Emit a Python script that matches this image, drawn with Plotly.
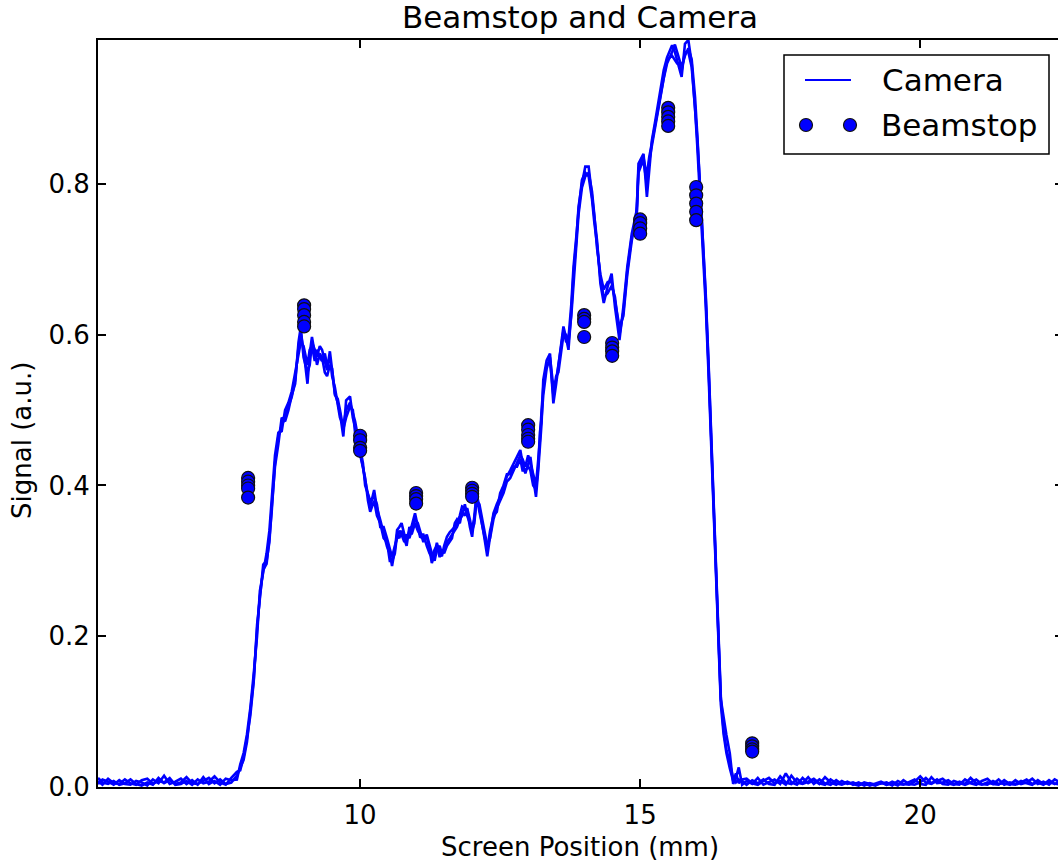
import plotly.graph_objects as go

# Screen profile sampling positions (mm)
position_mm = [
    5.32, 5.4, 5.5, 5.6, 5.7, 5.8, 5.9, 6.0, 6.1, 6.2,
    6.3, 6.4, 6.5, 6.6, 6.7, 6.8, 6.9, 7.0, 7.1, 7.2,
    7.3, 7.4, 7.5, 7.6, 7.7, 7.8,
    7.86, 7.92, 7.98, 8.04, 8.1, 8.16, 8.21, 8.27, 8.33, 8.38,
    8.42, 8.48, 8.54, 8.6, 8.66, 8.72, 8.78, 8.84, 8.9, 8.94,
    8.99, 9.06, 9.1, 9.14, 9.19, 9.23, 9.28, 9.32, 9.37, 9.41,
    9.46, 9.5, 9.55, 9.6, 9.64, 9.7, 9.75, 9.82, 9.87, 9.91,
    9.96, 10.0, 10.05, 10.09, 10.14, 10.18, 10.25, 10.3, 10.36, 10.42,
    10.48, 10.53, 10.57, 10.62, 10.66, 10.7, 10.74, 10.79, 10.83, 10.88,
    10.92, 10.98, 11.03, 11.07, 11.13, 11.19, 11.24, 11.28, 11.33, 11.37,
    11.42, 11.46, 11.5, 11.55, 11.6, 11.64, 11.69, 11.73, 11.78, 11.82,
    11.87, 11.91, 11.96, 12.0, 12.04, 12.08, 12.13, 12.17, 12.22, 12.27,
    12.32, 12.38, 12.44, 12.5, 12.56, 12.62, 12.68, 12.74, 12.8, 12.86,
    12.9, 12.95, 13.0, 13.04, 13.09, 13.14, 13.18, 13.21, 13.24, 13.27,
    13.33, 13.39, 13.45, 13.5, 13.54, 13.58, 13.63, 13.68, 13.72, 13.77,
    13.81, 13.86, 13.9, 13.96, 14.02, 14.08, 14.14, 14.18, 14.23, 14.29,
    14.35, 14.42, 14.49, 14.55, 14.63, 14.7, 14.77, 14.85, 14.9, 14.94,
    14.97, 15.02, 15.06, 15.12, 15.16, 15.21, 15.27, 15.35, 15.42, 15.48,
    15.57, 15.62, 15.66, 15.7, 15.74, 15.8, 15.86, 15.92, 15.98, 16.02,
    16.07, 16.12, 16.17, 16.22, 16.27, 16.32, 16.36, 16.4, 16.44, 16.49,
    16.54, 16.6, 16.66, 16.71, 16.76, 16.82,
    16.9, 17.0, 17.1, 17.2, 17.3, 17.4, 17.5, 17.6, 17.7, 17.8,
    17.9, 18.0, 18.1, 18.2, 18.3, 18.4, 18.5, 18.6, 18.7, 18.8,
    18.9, 19.0, 19.1, 19.2, 19.3, 19.4, 19.5, 19.6, 19.7, 19.8,
    19.9, 20.0, 20.1, 20.2, 20.3, 20.4, 20.5, 20.6, 20.7, 20.8,
    20.9, 21.0, 21.1, 21.2, 21.3, 21.4, 21.5, 21.6, 21.7, 21.8,
    21.9, 22.0, 22.1, 22.2, 22.3, 22.4, 22.5, 22.6,
]

# Camera signal, three overlaid shots (a.u.)
camera_shot_1 = [
    0.012, 0.006, 0.004, 0.008, 0.003, 0.005, 0.010, 0.004, 0.002, 0.006,
    0.003, 0.012, 0.005, 0.009, 0.004, 0.006, 0.013, 0.005, 0.004, 0.008,
    0.012, 0.005, 0.010, 0.004, 0.006, 0.015,
    0.025, 0.036, 0.06, 0.099, 0.142, 0.209, 0.253, 0.288, 0.296, 0.33,
    0.364, 0.43, 0.465, 0.48, 0.49, 0.505, 0.518, 0.54, 0.584, 0.602,
    0.58, 0.535, 0.575, 0.597, 0.575, 0.571, 0.585, 0.58, 0.565, 0.553,
    0.578, 0.55, 0.522, 0.51, 0.496, 0.465, 0.513, 0.518, 0.49, 0.478,
    0.46, 0.447, 0.425, 0.407, 0.385, 0.372, 0.394, 0.37, 0.354, 0.337,
    0.319, 0.31, 0.293, 0.315, 0.341, 0.345, 0.35, 0.335, 0.328, 0.34,
    0.346, 0.363, 0.345, 0.332, 0.33, 0.332, 0.315, 0.297, 0.31, 0.324,
    0.31, 0.306, 0.32, 0.332, 0.338, 0.341, 0.345, 0.35, 0.36, 0.372,
    0.37, 0.368, 0.345, 0.332, 0.36, 0.39, 0.37, 0.354, 0.33, 0.306,
    0.335, 0.363, 0.375, 0.385, 0.398, 0.412, 0.42, 0.43, 0.438, 0.447,
    0.43, 0.416, 0.43, 0.438, 0.41, 0.385, 0.42, 0.452, 0.483, 0.54,
    0.566, 0.575, 0.509, 0.535, 0.558, 0.585, 0.611, 0.595, 0.58, 0.63,
    0.681, 0.725, 0.77, 0.8, 0.823, 0.823, 0.783, 0.755, 0.725, 0.668,
    0.642, 0.664, 0.681, 0.637, 0.593, 0.637, 0.69, 0.734, 0.75, 0.765,
    0.827, 0.835, 0.84, 0.783, 0.82, 0.858, 0.884, 0.92, 0.951, 0.968,
    0.984, 0.975, 0.964, 0.955, 0.942, 0.986, 0.991, 0.96, 0.907, 0.86,
    0.796, 0.73, 0.65, 0.56, 0.465, 0.37, 0.28, 0.195, 0.116, 0.09,
    0.069, 0.045, 0.004, 0.012, 0.026, 0.003,
    0.008, 0.004, 0.012, 0.003, 0.006, 0.010, 0.004, 0.018, 0.006, 0.003,
    0.012, 0.005, 0.009, 0.004, 0.013, 0.006, 0.003, 0.008, 0.004, 0.006,
    0.003, 0.005, 0.002, 0.004, 0.007, 0.003, 0.005, 0.002, 0.009, 0.004,
    0.003, 0.006, 0.012, 0.005, 0.010, 0.004, 0.003, 0.008, 0.005, 0.003,
    0.006, 0.010, 0.004, 0.003, 0.008, 0.004, 0.005, 0.003, 0.009, 0.004,
    0.006, 0.011, 0.004, 0.007, 0.003, 0.010, 0.006, 0.008,
]

camera_shot_2 = [
    0.004, 0.010, 0.007, 0.003, 0.009, 0.004, 0.003, 0.008, 0.006, 0.002,
    0.010, 0.005, 0.015, 0.004, 0.007, 0.011, 0.004, 0.009, 0.003, 0.013,
    0.004, 0.008, 0.003, 0.011, 0.009, 0.010,
    0.03, 0.045, 0.07, 0.105, 0.15, 0.2, 0.26, 0.285, 0.31, 0.34,
    0.38, 0.44, 0.47, 0.472, 0.5, 0.51, 0.525, 0.55, 0.575, 0.59,
    0.585, 0.56, 0.58, 0.585, 0.565, 0.58, 0.57, 0.565, 0.575, 0.56,
    0.57, 0.545, 0.53, 0.505, 0.49, 0.48, 0.5, 0.51, 0.495, 0.485,
    0.465, 0.45, 0.43, 0.4, 0.39, 0.38, 0.385, 0.375, 0.345, 0.345,
    0.33, 0.315, 0.305, 0.32, 0.33, 0.34, 0.335, 0.325, 0.335, 0.33,
    0.34, 0.355, 0.35, 0.34, 0.325, 0.335, 0.32, 0.31, 0.3, 0.315,
    0.32, 0.31, 0.315, 0.325, 0.33, 0.335, 0.34, 0.345, 0.355, 0.36,
    0.375, 0.36, 0.35, 0.345, 0.355, 0.38, 0.375, 0.36, 0.34, 0.32,
    0.33, 0.355, 0.37, 0.38, 0.39, 0.405, 0.41, 0.42, 0.43, 0.44,
    0.435, 0.425, 0.44, 0.43, 0.415, 0.4, 0.43, 0.46, 0.5, 0.53,
    0.56, 0.565, 0.52, 0.545, 0.55, 0.575, 0.6, 0.6, 0.59, 0.625,
    0.67, 0.715, 0.76, 0.795, 0.81, 0.815, 0.79, 0.76, 0.715, 0.68,
    0.66, 0.67, 0.67, 0.645, 0.61, 0.625, 0.68, 0.725, 0.745, 0.76,
    0.815, 0.825, 0.83, 0.8, 0.83, 0.85, 0.875, 0.91, 0.94, 0.96,
    0.975, 0.985, 0.975, 0.965, 0.955, 0.97, 0.98, 0.965, 0.915, 0.865,
    0.8, 0.735, 0.655, 0.565, 0.47, 0.375, 0.285, 0.2, 0.12, 0.075,
    0.05, 0.03, 0.012, 0.006, 0.01, 0.008,
    0.003, 0.009, 0.005, 0.010, 0.004, 0.003, 0.014, 0.006, 0.004, 0.011,
    0.005, 0.013, 0.004, 0.010, 0.005, 0.003, 0.009, 0.004, 0.007, 0.003,
    0.006, 0.002, 0.005, 0.003, 0.004, 0.006, 0.002, 0.008, 0.004, 0.003,
    0.007, 0.014, 0.006, 0.004, 0.008, 0.011, 0.005, 0.003, 0.007, 0.004,
    0.012, 0.005, 0.003, 0.006, 0.004, 0.010, 0.003, 0.006, 0.004, 0.008,
    0.005, 0.003, 0.009, 0.004, 0.006, 0.005, 0.003, 0.009,
]

camera_shot_3 = [
    0.008, 0.003, 0.011, 0.005, 0.004, 0.010, 0.005, 0.003, 0.009, 0.011,
    0.004, 0.008, 0.006, 0.012, 0.003, 0.004, 0.008, 0.003, 0.010, 0.005,
    0.007, 0.014, 0.006, 0.003, 0.012, 0.020,
    0.022, 0.04, 0.065, 0.095, 0.14, 0.215, 0.25, 0.295, 0.3, 0.325,
    0.37, 0.425, 0.455, 0.49, 0.485, 0.5, 0.52, 0.535, 0.59, 0.61,
    0.57, 0.55, 0.56, 0.59, 0.58, 0.56, 0.575, 0.57, 0.55, 0.545,
    0.56, 0.555, 0.52, 0.515, 0.5, 0.475, 0.49, 0.505, 0.5, 0.47,
    0.455, 0.44, 0.42, 0.41, 0.38, 0.365, 0.38, 0.36, 0.35, 0.33,
    0.325, 0.3, 0.3, 0.31, 0.335, 0.33, 0.34, 0.33, 0.32, 0.345,
    0.335, 0.35, 0.34, 0.335, 0.335, 0.32, 0.31, 0.305, 0.315, 0.32,
    0.305, 0.315, 0.31, 0.32, 0.325, 0.33, 0.35, 0.355, 0.35, 0.365,
    0.36, 0.37, 0.355, 0.34, 0.35, 0.385, 0.365, 0.35, 0.335, 0.315,
    0.34, 0.36, 0.365, 0.39, 0.4, 0.415, 0.415, 0.425, 0.425, 0.435,
    0.42, 0.42, 0.425, 0.42, 0.4, 0.395, 0.425, 0.47, 0.49, 0.52,
    0.555, 0.57, 0.53, 0.54, 0.56, 0.58, 0.605, 0.59, 0.595, 0.64,
    0.69, 0.73, 0.765, 0.805, 0.815, 0.81, 0.78, 0.75, 0.72, 0.675,
    0.65, 0.655, 0.665, 0.65, 0.6, 0.63, 0.685, 0.73, 0.74, 0.77,
    0.82, 0.83, 0.835, 0.81, 0.835, 0.855, 0.88, 0.915, 0.945, 0.965,
    0.97, 0.965, 0.96, 0.96, 0.95, 0.975, 0.975, 0.955, 0.9, 0.85,
    0.785, 0.72, 0.64, 0.55, 0.455, 0.36, 0.27, 0.185, 0.11, 0.07,
    0.045, 0.025, 0.008, 0.018, 0.005, 0.01,
    0.011, 0.005, 0.003, 0.008, 0.012, 0.005, 0.008, 0.003, 0.015, 0.006,
    0.004, 0.007, 0.011, 0.005, 0.003, 0.010, 0.005, 0.003, 0.006, 0.004,
    0.002, 0.006, 0.004, 0.002, 0.006, 0.003, 0.007, 0.004, 0.003, 0.006,
    0.010, 0.004, 0.003, 0.013, 0.005, 0.006, 0.009, 0.004, 0.003, 0.010,
    0.005, 0.003, 0.008, 0.011, 0.004, 0.003, 0.009, 0.004, 0.003, 0.006,
    0.010, 0.004, 0.006, 0.003, 0.009, 0.004, 0.007, 0.004,
]

# Beamstop readings: scan position (mm) and repeated signal readings (a.u.)
beamstop_position_mm = [8, 9, 10, 11, 12, 13, 14, 14.5, 15, 15.5, 16, 17]
beamstop_signal = [
    [0.410, 0.405, 0.400, 0.396, 0.384],
    [0.639, 0.634, 0.626, 0.617, 0.611],
    [0.466, 0.460, 0.450, 0.446],
    [0.390, 0.386, 0.382, 0.376],
    [0.397, 0.393, 0.389, 0.385],
    [0.480, 0.474, 0.467, 0.462, 0.458],
    [0.626, 0.621, 0.617, 0.597],
    [0.589, 0.583, 0.578, 0.572],
    [0.753, 0.748, 0.741, 0.734],
    [0.901, 0.895, 0.889, 0.883, 0.877],
    [0.796, 0.785, 0.774, 0.763, 0.752],
    [0.058, 0.054, 0.050, 0.047],
]

x_ticks = [10, 15, 20]
y_ticks = [0.0, 0.2, 0.4, 0.6, 0.8]
y_tick_labels = ["0.0", "0.2", "0.4", "0.6", "0.8"]

assert len(position_mm) == len(camera_shot_1) == len(camera_shot_2) == len(camera_shot_3)

BLUE = "#0000ff"
FONT = "DejaVu Sans"
W, H = 1058, 865
M_L, M_R, M_T, M_B = 98, 0, 40, 78

fig = go.Figure()

for shot in (camera_shot_1, camera_shot_2, camera_shot_3):
    fig.add_trace(go.Scatter(
        x=position_mm, y=shot, mode="lines",
        line=dict(color=BLUE, width=2.6),
        showlegend=False, hoverinfo="skip",
    ))

bs_x, bs_y = [], []
for pos, readings in zip(beamstop_position_mm, beamstop_signal):
    for val in readings:
        bs_x.append(pos)
        bs_y.append(val)

fig.add_trace(go.Scatter(
    x=bs_x, y=bs_y, mode="markers",
    marker=dict(size=13, color=BLUE, line=dict(color="#111111", width=1.2)),
    showlegend=False, hoverinfo="skip",
))

# empty trace so the right-hand tick axis is rendered
fig.add_trace(go.Scatter(x=[], y=[], yaxis="y2", showlegend=False))

axis_common = dict(
    ticks="inside", ticklen=8, tickwidth=1.5, tickcolor="black",
    showline=True, linecolor="black", linewidth=2,
    showgrid=False, zeroline=False,
    tickfont=dict(family=FONT, size=26, color="black"),
)

fig.update_layout(
    width=W, height=H,
    margin=dict(l=M_L, r=M_R, t=M_T, b=M_B),
    paper_bgcolor="white", plot_bgcolor="white",
    font=dict(family=FONT, color="black"),
    title=dict(
        text="Beamstop and Camera",
        font=dict(family=FONT, size=31, color="black"),
        x=580 / W, xanchor="center", xref="container",
        y=1 - 17 / H, yanchor="middle", yref="container",
    ),
    xaxis=dict(
        range=[5.32, 22.46], tickvals=x_ticks, mirror="ticks",
        ticklabelstandoff=4, **axis_common,
    ),
    yaxis=dict(
        range=[0, 0.991], tickvals=y_ticks, ticktext=y_tick_labels,
        mirror=False, ticklabelstandoff=1, **axis_common,
    ),
    yaxis2=dict(
        overlaying="y", side="right", anchor="x",
        range=[0, 0.991], tickvals=y_ticks,
        ticks="inside", ticklen=3, tickwidth=1.5, tickcolor="black",
        showticklabels=False, showline=False, showgrid=False, zeroline=False,
    ),
)

plot_w = W - M_L - M_R
plot_h = H - M_T - M_B


def px_to_paper(px, py):
    return (px - M_L) / plot_w, (H - M_B - py) / plot_h


# axis labels
lx, ly = px_to_paper(580, 847)
fig.add_annotation(text="Screen Position (mm)", x=lx, y=ly, xref="paper", yref="paper",
                   xanchor="center", yanchor="middle", showarrow=False,
                   font=dict(family=FONT, size=26, color="black"))
lx, ly = px_to_paper(22, 441)
fig.add_annotation(text="Signal (a.u.)", x=lx, y=ly, xref="paper", yref="paper",
                   xanchor="center", yanchor="middle", showarrow=False, textangle=-90,
                   font=dict(family=FONT, size=26, color="black"))

# legend box
bx0, by0 = px_to_paper(784, 154)
bx1, by1 = px_to_paper(1049, 55)
fig.add_shape(type="rect", xref="paper", yref="paper", x0=bx0, y0=by0, x1=bx1, y1=by1,
              line=dict(color="black", width=1.5), fillcolor="white", layer="above")

# legend: Camera line sample
sx0, sy = px_to_paper(805, 80)
sx1, _ = px_to_paper(851, 80)
fig.add_shape(type="line", xref="paper", yref="paper", x0=sx0, y0=sy, x1=sx1, y1=sy,
              line=dict(color=BLUE, width=2), layer="above")
tx, ty = px_to_paper(880, 80)
fig.add_annotation(text="Camera", x=tx, y=ty, xref="paper", yref="paper",
                   xanchor="left", yanchor="middle", showarrow=False,
                   font=dict(family=FONT, size=31, color="black"))

# legend: Beamstop marker samples
for mx_px in (806, 850):
    mx, my = px_to_paper(mx_px, 125)
    fig.add_shape(type="circle", xref="paper", yref="paper",
                  xsizemode="pixel", ysizemode="pixel", xanchor=mx, yanchor=my,
                  x0=-6.5, x1=6.5, y0=-6.5, y1=6.5,
                  fillcolor=BLUE, line=dict(color="#111111", width=1.2), layer="above")
tx, ty = px_to_paper(879, 125)
fig.add_annotation(text="Beamstop", x=tx, y=ty, xref="paper", yref="paper",
                   xanchor="left", yanchor="middle", showarrow=False,
                   font=dict(family=FONT, size=31, color="black"))

fig.write_html("out.html")
